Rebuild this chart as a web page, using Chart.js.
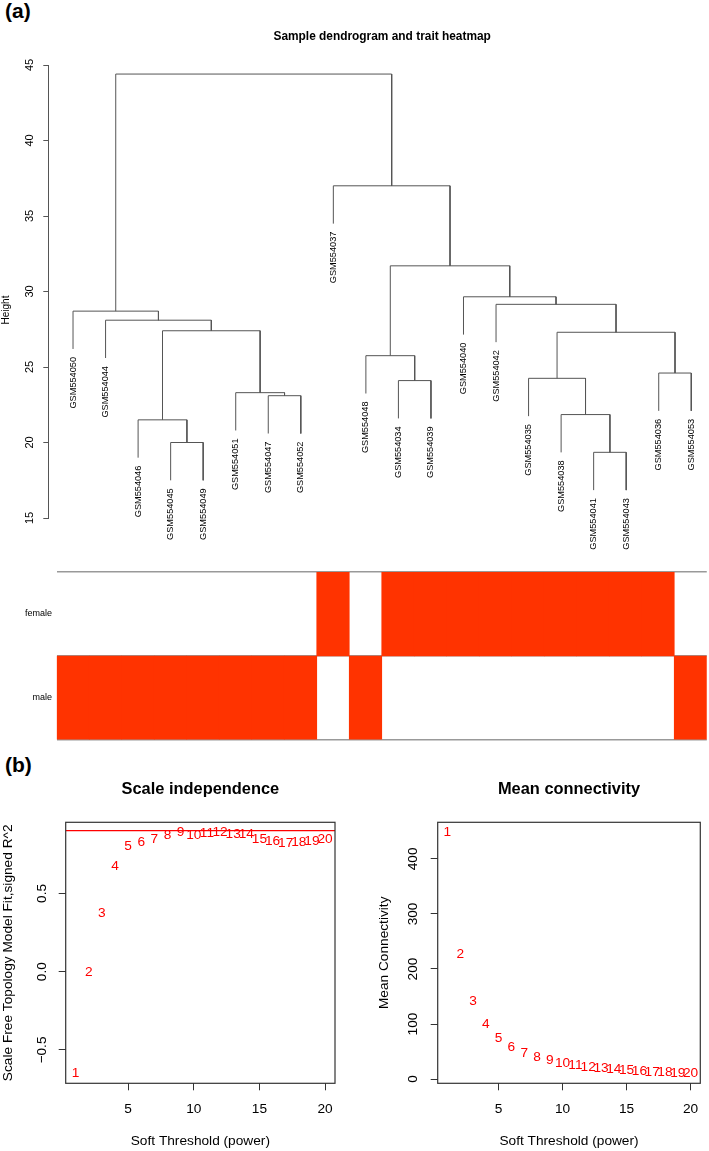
<!DOCTYPE html>
<html>
<head>
<meta charset="utf-8">
<script src="https://cdn.jsdelivr.net/npm/chart.js@4.4.1/dist/chart.umd.min.js"></script>
<style>
  body { margin: 0; background: #fff; }
  #fig { position: relative; width: 709px; height: 1151px; overflow: hidden; background: #fff; }
  #fig canvas { position: absolute; }
  .panel { position: absolute; left: 5px; font: bold 21px "Liberation Sans", Arial, sans-serif; color: #000; }
</style>
</head>
<body>
<div id="fig">
  <div class="panel" style="top:-1px">(a)</div>
  <div class="panel" style="top:753px">(b)</div>
  <canvas id="dendro" width="716" height="572" style="left:0;top:0"></canvas>
  <canvas id="traits" width="709" height="180" style="left:0;top:566px"></canvas>
  <canvas id="sft" width="354" height="391" style="left:0;top:760px"></canvas>
  <canvas id="conn" width="355" height="391" style="left:354px;top:760px"></canvas>
</div>
<script>
const FONT = '"Liberation Sans", Arial, sans-serif';
Chart.defaults.font.family = FONT;
Chart.defaults.color = '#000';

// (a) sample dendrogram, leaves in plotting order
const leafOrder = ['GSM554050', 'GSM554044', 'GSM554046', 'GSM554045', 'GSM554049', 'GSM554051', 'GSM554047',
    'GSM554052', 'GSM554037', 'GSM554048', 'GSM554034', 'GSM554039', 'GSM554040', 'GSM554042', 'GSM554035',
    'GSM554038', 'GSM554041', 'GSM554043', 'GSM554036', 'GSM554053'];
// merges: [left child, right child, height]; a number points to an earlier merge
const merges = [
    ['GSM554045', 'GSM554049', 20.0],
    ['GSM554046', 0, 21.5],
    ['GSM554047', 'GSM554052', 23.1],
    ['GSM554051', 2, 23.3],
    [1, 3, 27.4],
    ['GSM554044', 4, 28.1],
    ['GSM554050', 5, 28.7],
    ['GSM554034', 'GSM554039', 24.1],
    ['GSM554048', 7, 25.75],
    ['GSM554041', 'GSM554043', 19.35],
    ['GSM554038', 9, 21.85],
    ['GSM554035', 10, 24.25],
    ['GSM554036', 'GSM554053', 24.6],
    [11, 12, 27.3],
    ['GSM554042', 13, 29.15],
    ['GSM554040', 14, 29.65],
    [8, 15, 31.7],
    ['GSM554037', 16, 37.0],
    [6, 17, 44.4]
];
const heightTicks = [15, 20, 25, 30, 35, 40, 45];
// trait heatmap, same order as leafOrder
const sex = ['male', 'male', 'male', 'male', 'male', 'male', 'male', 'male', 'female', 'male',
    'female', 'female', 'female', 'female', 'female', 'female', 'female', 'female', 'female', 'male'];
const traitRows = ['male', 'female'];

// (b) soft threshold
const powers = [1, 2, 3, 4, 5, 6, 7, 8, 9, 10, 11, 12, 13, 14, 15, 16, 17, 18, 19, 20];
const sftR2 = [-0.651, -0.002, 0.376, 0.676, 0.803, 0.825, 0.844, 0.871, 0.892, 0.871,
    0.881, 0.892, 0.877, 0.877, 0.844, 0.833, 0.818, 0.825, 0.835, 0.846];
const meanK = [449, 227, 141.5, 99, 74.7, 58.3, 47.4, 40.1, 34, 29.1,
    25, 21.9, 18.9, 17.1, 15.8, 14, 12.8, 11.6, 10.4, 9.8];
const r2Cutoff = 0.9;
const powerTicks = [5, 10, 15, 20];
const r2Ticks = [-0.5, 0, 0.5];
const r2TickLabels = ['\u22120.5', '0.0', '0.5'];
const kTicks = [0, 100, 200, 300, 400];
const kTickLabels = ['0', '100', '200', '300', '400'];

const BASE = 13.7; // text size of panel (b)

// R style axis range: data range plus 4% on each side
function rRange(vals) {
    const lo = Math.min(...vals), hi = Math.max(...vals), d = (hi - lo) * 0.04;
    return [lo - d, hi + d];
}

function setTicks(values) {
    return scale => { scale.ticks = values.map(v => ({ value: v })); };
}

function rotatedText(ctx, text, x, y, align) {
    ctx.save();
    ctx.translate(x, y);
    ctx.rotate(-Math.PI / 2);
    ctx.textAlign = align;
    ctx.fillText(text, 0, 0);
    ctx.restore();
}

// ---------- dendrogram ----------
const heights = merges.map(m => m[2]);
const hang = 0.1 * (Math.max(...heights) - Math.min(...heights));
const nodeX = [];
const leafEnd = {};
const segments = merges.map((m, i) => {
    const h = m[2];
    const ends = [m[0], m[1]].map(c => {
        if (typeof c === 'string') {
            leafEnd[c] = h - hang;
            return { x: leafOrder.indexOf(c), y: h - hang };
        }
        return { x: nodeX[c], y: merges[c][2] };
    });
    nodeX[i] = (ends[0].x + ends[1].x) / 2;
    return [ends[0], { x: ends[0].x, y: h }, { x: ends[1].x, y: h }, ends[1]];
});
const leafRange = rRange(leafOrder.map((_, i) => i));

new Chart('dendro', {
    type: 'scatter',
    data: {
        datasets: segments.map(seg => ({
            data: seg,
            showLine: true,
            borderColor: '#555',
            borderWidth: 1,
            pointRadius: 0,
            tension: 0
        }))
    },
    options: {
        responsive: false,
        animation: false,
        events: [],
        layout: { padding: { left: 0, right: 0, top: 0, bottom: 54 } },
        plugins: {
            legend: { display: false },
            tooltip: { enabled: false },
            title: {
                display: true,
                text: 'Sample dendrogram and trait heatmap',
                fullSize: false,
                font: { size: 11.9, weight: 'bold' },
                padding: { top: 29.86, bottom: 20.86 }
            }
        },
        scales: {
            x: { type: 'linear', display: false, min: leafRange[0], max: leafRange[1] },
            y: {
                type: 'linear',
                min: 15,
                max: 45,
                afterBuildTicks: setTicks(heightTicks),
                afterFit: s => { s.width = 48.3; },
                ticks: { display: false },
                border: { display: true, color: '#555', width: 1 },
                grid: { drawOnChartArea: false, drawTicks: true, tickLength: 5, color: '#555' }
            }
        }
    },
    plugins: [{
        id: 'dendroText',
        afterDraw(chart) {
            const ctx = chart.ctx, xs = chart.scales.x, ys = chart.scales.y;
            ctx.save();
            ctx.fillStyle = '#000';
            ctx.textBaseline = 'middle';
            ctx.font = '9.2px ' + FONT;
            leafOrder.forEach((name, i) => {
                rotatedText(ctx, name, xs.getPixelForValue(i), ys.getPixelForValue(leafEnd[name]) + 8, 'right');
            });
            ctx.font = '11px ' + FONT;
            heightTicks.forEach(v => rotatedText(ctx, String(v), 30, ys.getPixelForValue(v), 'center'));
            ctx.font = '10px ' + FONT;
            rotatedText(ctx, 'Height', 6, 310, 'center');
            ctx.restore();
        }
    }]
});

// ---------- trait heatmap ----------
new Chart('traits', {
    type: 'bar',
    data: {
        labels: leafOrder,
        datasets: traitRows.map((row, r) => ({
            label: row,
            data: sex.map(s => (s === row ? [r, r + 1] : null)),
            backgroundColor: '#FF3300',
            borderWidth: 0,
            barPercentage: 1,
            categoryPercentage: 1,
            grouped: false
        }))
    },
    options: {
        responsive: false,
        animation: false,
        events: [],
        layout: { padding: { left: 0, right: 2.25, top: 6, bottom: 6 } },
        plugins: { legend: { display: false }, tooltip: { enabled: false } },
        scales: {
            x: { display: false },
            y: {
                min: 0,
                max: 2,
                z: 1,
                afterBuildTicks: setTicks([0, 1, 2]),
                afterFit: s => { s.width = 56.75; },
                ticks: { display: false },
                border: { display: false },
                grid: { color: 'rgba(70,70,70,0.55)', lineWidth: 1.5, drawTicks: false }
            }
        }
    },
    plugins: [{
        id: 'rowLabels',
        afterDraw(chart) {
            const ctx = chart.ctx, ys = chart.scales.y;
            ctx.save();
            ctx.fillStyle = '#000';
            ctx.font = '9px ' + FONT;
            ctx.textAlign = 'right';
            ctx.textBaseline = 'middle';
            traitRows.forEach((row, r) => ctx.fillText(row, 52, ys.getPixelForValue(r + 0.5)));
            ctx.restore();
        }
    }]
});

// ---------- soft threshold plots ----------
const powerRange = rRange(powers);

function softPlot(id, title, values, yTicks, yTickLabels, yTitle, cfg) {
    const yRange = rRange(values);
    const datasets = [{
        data: powers.map((p, i) => ({ x: p, y: values[i] })),
        pointRadius: 0
    }];
    if (cfg.cutoff !== undefined) {
        datasets.push({
            data: [{ x: powerRange[0], y: cfg.cutoff }, { x: powerRange[1], y: cfg.cutoff }],
            showLine: true,
            borderColor: '#FF0000',
            borderWidth: 1.3,
            pointRadius: 0
        });
    }
    new Chart(id, {
        type: 'scatter',
        data: { datasets },
        options: {
            responsive: false,
            animation: false,
            events: [],
            layout: { padding: { left: 0, right: cfg.padRight, top: 0, bottom: 0 } },
            plugins: {
                legend: { display: false },
                tooltip: { enabled: false },
                title: {
                    display: true,
                    text: title,
                    fullSize: false,
                    font: { size: 16.4, weight: 'bold' },
                    padding: { top: 19.16, bottom: 23.46 }
                }
            },
            scales: {
                x: {
                    type: 'linear',
                    min: powerRange[0],
                    max: powerRange[1],
                    afterBuildTicks: setTicks(powerTicks),
                    afterFit: s => { s.height = 67.7; },
                    ticks: { font: { size: BASE }, padding: 10.5, maxRotation: 0 },
                    border: { display: false },
                    grid: { drawOnChartArea: false, drawTicks: true, tickLength: 7, color: '#333' },
                    title: { display: true, text: 'Soft Threshold (power)', font: { size: BASE }, padding: { top: 0, bottom: 1.8 } }
                },
                y: {
                    type: 'linear',
                    min: yRange[0],
                    max: yRange[1],
                    afterBuildTicks: setTicks(yTicks),
                    afterFit: s => { s.width = cfg.yWidth; },
                    ticks: { display: false },
                    border: { display: false },
                    grid: { drawOnChartArea: false, drawTicks: true, tickLength: 7, color: '#333' },
                    title: { display: true, text: yTitle, font: { size: BASE }, padding: { top: cfg.yTitlePad, bottom: 0 } }
                }
            }
        },
        plugins: [{
            id: 'softText',
            afterDatasetsDraw(chart) {
                const ctx = chart.ctx;
                ctx.save();
                ctx.fillStyle = '#FF0000';
                ctx.font = BASE + 'px ' + FONT;
                ctx.textAlign = 'center';
                ctx.textBaseline = 'middle';
                chart.getDatasetMeta(0).data.forEach((pt, i) => ctx.fillText(String(powers[i]), pt.x, pt.y));
                ctx.restore();
            },
            afterDraw(chart) {
                const ctx = chart.ctx, a = chart.chartArea, ys = chart.scales.y;
                ctx.save();
                ctx.strokeStyle = '#333';
                ctx.lineWidth = 1.2;
                ctx.strokeRect(a.left, a.top, a.right - a.left, a.bottom - a.top);
                ctx.fillStyle = '#000';
                ctx.font = BASE + 'px ' + FONT;
                ctx.textBaseline = 'middle';
                yTicks.forEach((v, i) => rotatedText(ctx, yTickLabels[i], cfg.yTickX, ys.getPixelForValue(v), 'center'));
                ctx.restore();
            }
        }]
    });
}

softPlot('sft', 'Scale independence', sftR2, r2Ticks, r2TickLabels,
    'Scale Free Topology Model Fit,signed R^2',
    { cutoff: r2Cutoff, padRight: 19, yWidth: 65.7, yTitlePad: 0, yTickX: 42 });

softPlot('conn', 'Mean connectivity', meanK, kTicks, kTickLabels,
    'Mean Connectivity',
    { padRight: 1.7, yWidth: 83.7, yTitlePad: 22.3, yTickX: 59 });
</script>
</body>
</html>
